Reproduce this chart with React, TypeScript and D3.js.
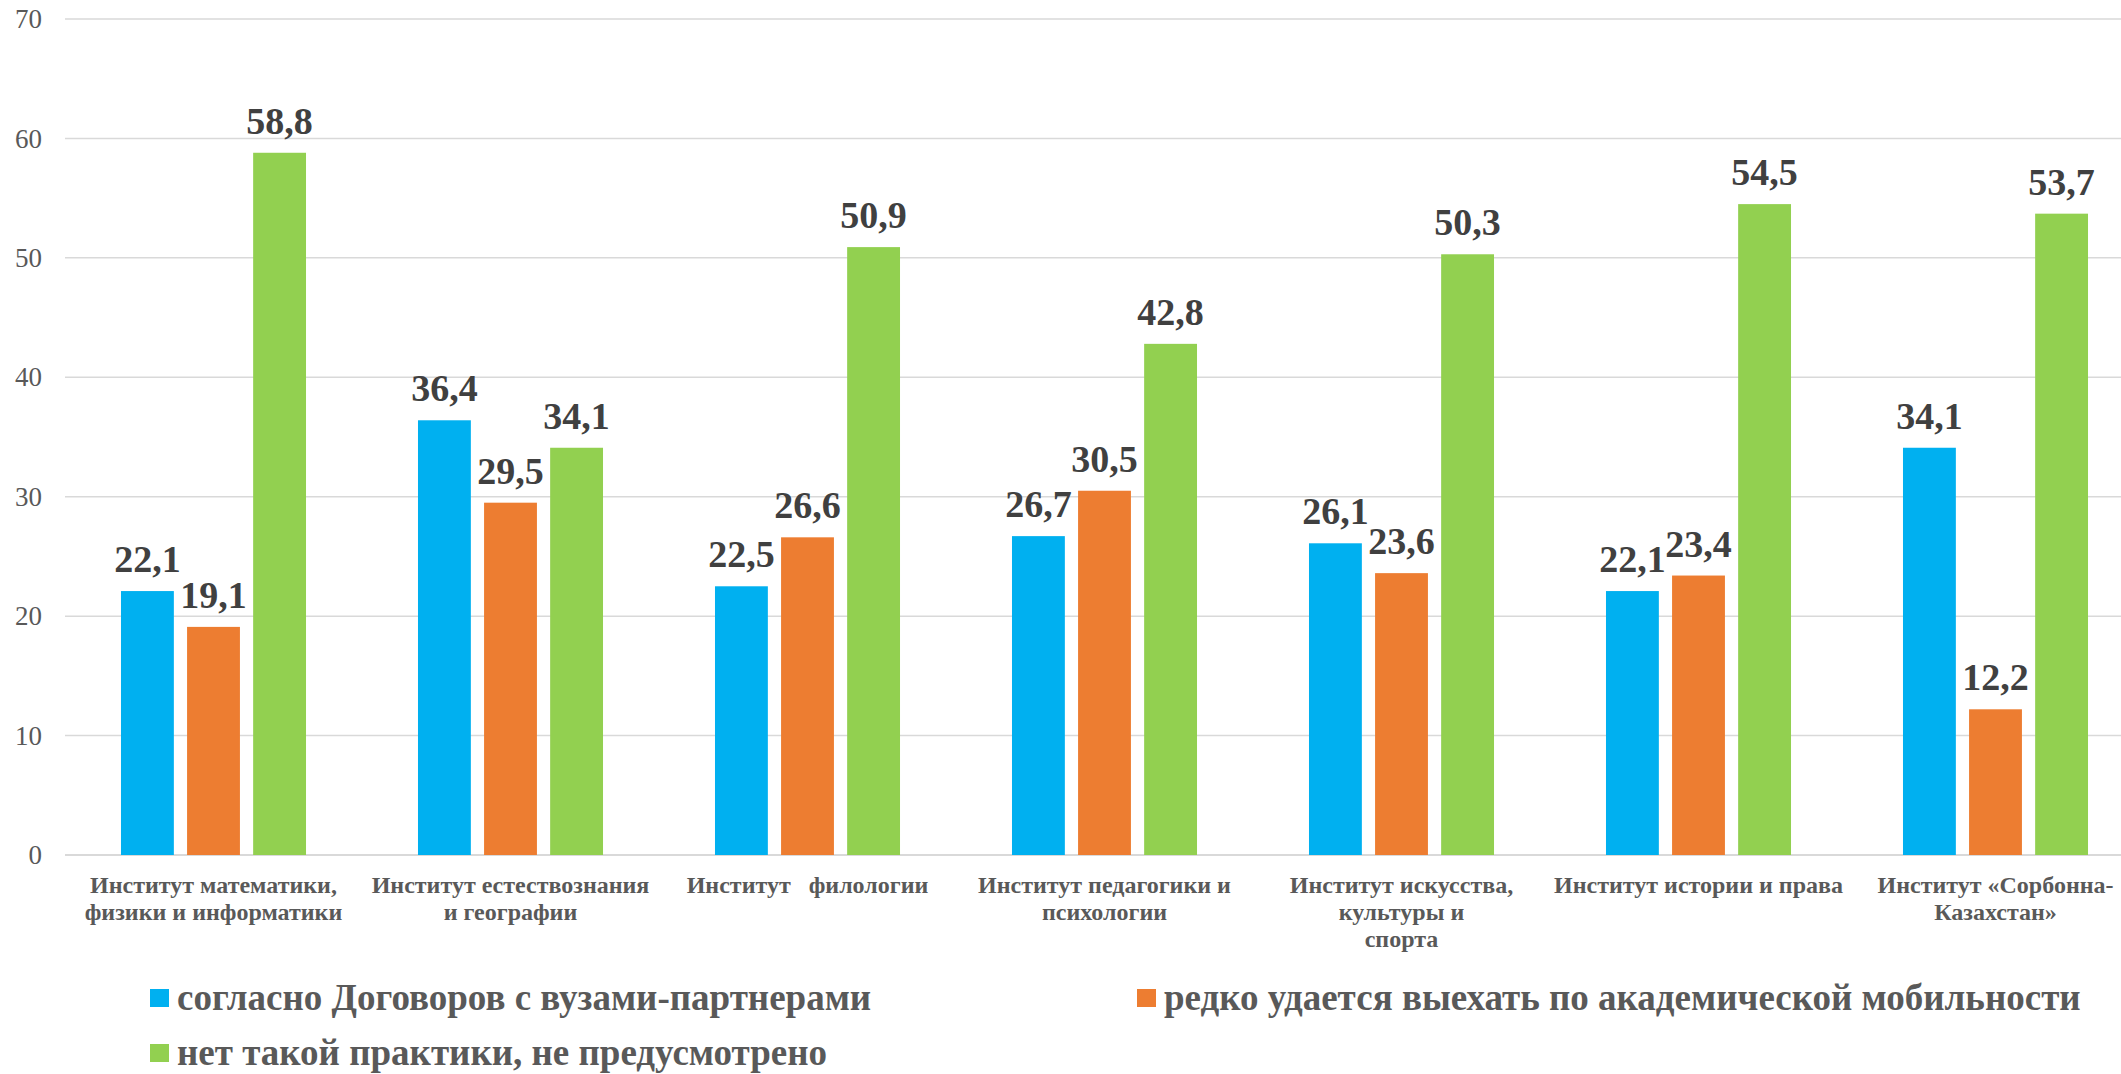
import React from "react";
import * as d3 from "d3";

const categories: string[][] = [
  ["Институт математики,", "физики и информатики"],
  ["Институт естествознания", "и географии"],
  ["Институт   филологии"],
  ["Институт педагогики и", "психологии"],
  ["Институт искусства,", "культуры и", "спорта"],
  ["Институт истории и права"],
  ["Институт «Сорбонна-", "Казахстан»"],
];

const seriesNames = [
  "согласно Договоров с вузами-партнерами",
  "редко удается выехать по академической мобильности",
  "нет такой практики, не предусмотрено",
];

const agreements = [22.1, 36.4, 22.5, 26.7, 26.1, 22.1, 34.1];
const rarely = [19.1, 29.5, 26.6, 30.5, 23.6, 23.4, 12.2];
const noPractice = [58.8, 34.1, 50.9, 42.8, 50.3, 54.5, 53.7];

const yTicks = [0, 10, 20, 30, 40, 50, 60, 70];

const colors = ["#00B0F0", "#ED7D31", "#92D050"];

const W = 2121;
const H = 1074;
const FONT = "Liberation Serif";

export default function App() {
  const series = [agreements, rarely, noPractice];
  const idx = categories.map((_, i) => String(i));
  const x0 = d3
    .scaleBand<string>()
    .domain(idx)
    .range([65, 2144])
    .paddingInner(0.377)
    .paddingOuter(0.1885);
  const x1 = d3
    .scaleBand<string>()
    .domain(["0", "1", "2"])
    .range([0, x0.bandwidth()])
    .paddingInner(0.2);
  const y = d3.scaleLinear().domain([0, 70]).range([855, 19]);
  const fmt = (v: number) => v.toFixed(1).replace(".", ",");

  const legendItems = [
    { name: seriesNames[0], color: colors[0], x: 150, y: 1010 },
    { name: seriesNames[1], color: colors[1], x: 1137, y: 1010 },
    { name: seriesNames[2], color: colors[2], x: 150, y: 1065 },
  ];

  return (
    <svg
      width={W}
      height={H}
      style={{ position: "absolute", left: 0, top: 0, background: "#fff" }}
    >
      {yTicks.map((t) => (
        <g key={t}>
          <line
            x1={65}
            x2={W}
            y1={y(t)}
            y2={y(t)}
            stroke="#D9D9D9"
            strokeWidth={t === 0 ? 2 : 1.5}
          />
          <text
            x={42}
            y={y(t)}
            dy="0.34em"
            textAnchor="end"
            fontFamily={FONT}
            fontSize={27}
            fill="#595959"
          >
            {t}
          </text>
        </g>
      ))}
      {idx.map((c, ci) => (
        <g key={c} transform={`translate(${x0(c)},0)`}>
          {series.map((s, si) => {
            const v = s[ci];
            const bx = x1(String(si))!;
            return (
              <g key={si}>
                <rect
                  x={bx}
                  y={y(v)}
                  width={x1.bandwidth()}
                  height={y(0) - y(v)}
                  fill={colors[si]}
                />
                <text
                  x={bx + x1.bandwidth() / 2}
                  y={y(v) - 19}
                  textAnchor="middle"
                  fontFamily={FONT}
                  fontSize={38}
                  fontWeight="bold"
                  fill="#404040"
                >
                  {fmt(v)}
                </text>
              </g>
            );
          })}
          <text
            x={x0.bandwidth() / 2}
            y={893}
            textAnchor="middle"
            fontFamily={FONT}
            fontSize={24}
            fontWeight="bold"
            fill="#595959"
            style={{ whiteSpace: "pre" }}
          >
            {categories[ci].map((line, li) => (
              <tspan key={li} x={x0.bandwidth() / 2} dy={li === 0 ? 0 : 27}>
                {line}
              </tspan>
            ))}
          </text>
        </g>
      ))}
      {legendItems.map((it, i) => (
        <g key={i}>
          <rect x={it.x} y={it.y - 21} width={19} height={18} fill={it.color} />
          <text
            x={it.x + 27}
            y={it.y}
            fontFamily={FONT}
            fontSize={37}
            fontWeight="bold"
            fill="#595959"
          >
            {it.name}
          </text>
        </g>
      ))}
    </svg>
  );
}
